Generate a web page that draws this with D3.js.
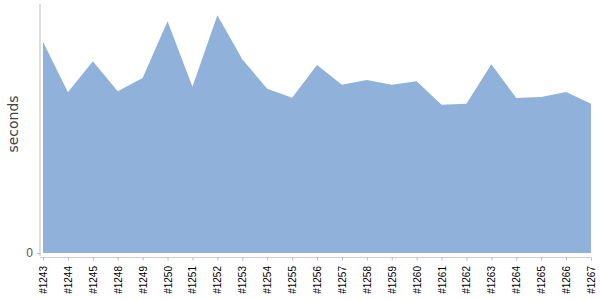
<!DOCTYPE html>
<html>
<head>
<meta charset="utf-8">
<script src="https://cdn.jsdelivr.net/npm/d3@7"></script>
<style>
body { margin: 0; background: #fff; }
svg { display: block; font-family: "DejaVu Sans", sans-serif; }
</style>
</head>
<body>
<svg id="chart" width="600" height="300"></svg>
<script>
var builds = ["#1243","#1244","#1245","#1248","#1249","#1250","#1251","#1252","#1253","#1254","#1255","#1256",
	"#1257","#1258","#1259","#1260","#1261","#1262","#1263","#1264","#1265","#1266","#1267"];
var seconds = [211.3, 160.7, 191.7, 161.7, 175, 231.7, 166.3, 237.7, 193.7, 164.3, 155.3, 188,
	168.3, 173, 168.3, 171.7, 148.3, 149.3, 188.7, 155, 156, 161, 149.3];
var yTicks = [0];

var svg = d3.select("svg#chart");
var x = d3.scalePoint().domain(builds).range([43, 591]);
var y = d3.scaleLinear().domain([0, 249]).range([253, 4]);

var area = d3.area()
	.x(function(d, i) { return x(builds[i]); })
	.y0(y(0))
	.y1(function(d) { return y(d); });

svg.append("path")
	.datum(seconds)
	.attr("fill", "#8fb1da")
	.attr("d", area);

// y axis
var yAxis = svg.append("g")
	.attr("transform", "translate(40,0)")
	.call(d3.axisLeft(y).tickValues(yTicks).tickSize(3).tickSizeOuter(0).tickPadding(4));
yAxis.select(".domain").attr("stroke", "#bbb").attr("d", "M0,4V256");
yAxis.selectAll(".tick line").attr("stroke", "#bbb");
yAxis.selectAll("text").attr("fill", "#555").style("font-size", "12px");

// x axis
var xAxis = svg.append("g")
	.attr("transform", "translate(0,257.5)")
	.call(d3.axisBottom(x).tickSize(3).tickSizeOuter(0));
xAxis.select(".domain").attr("stroke", "#ccc").attr("d", "M40,0H591");
xAxis.selectAll(".tick line").attr("stroke", "#bbb");
xAxis.selectAll("text")
	.attr("fill", "#000")
	.style("font-size", "10px")
	.attr("text-anchor", "end")
	.attr("transform", "rotate(-90)")
	.attr("x", -8.5)
	.attr("y", 0)
	.attr("dy", "0.35em");

svg.append("text")
	.attr("transform", "translate(18,124) rotate(-90)")
	.attr("text-anchor", "middle")
	.attr("fill", "#444")
	.style("font-size", "14px")
	.text("seconds");
</script>
</body>
</html>
